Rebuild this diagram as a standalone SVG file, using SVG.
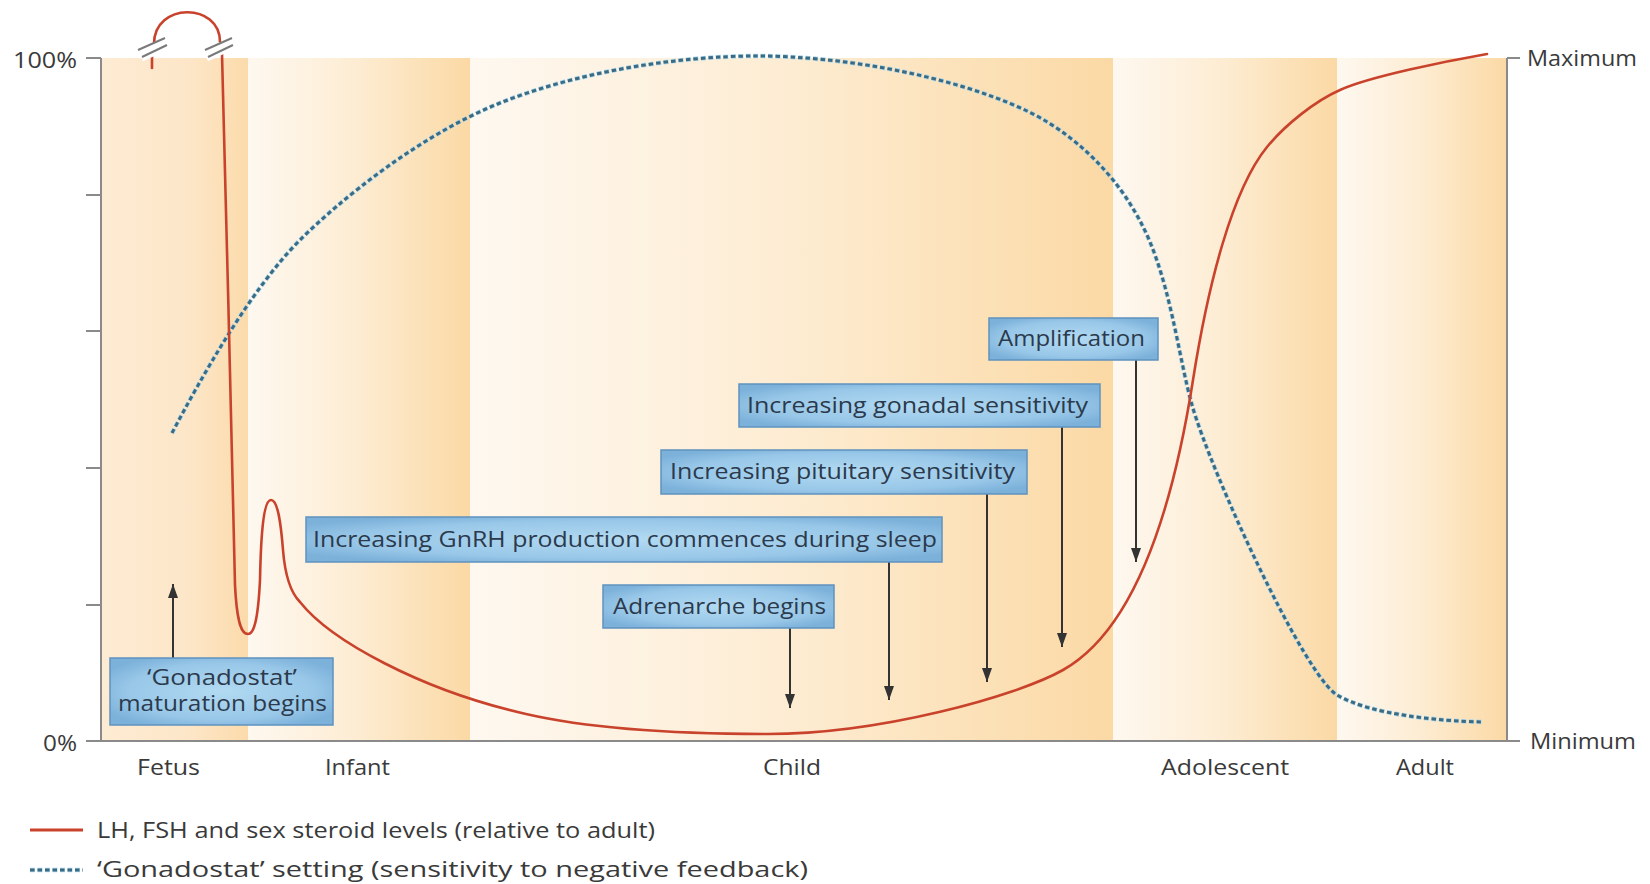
<svg xmlns="http://www.w3.org/2000/svg" width="1650" height="884" viewBox="0 0 1650 884">
<style>
  .ax { stroke: #8a8a8a; stroke-width: 2; fill: none; }
  .lbl { font-family: "Open Sans", "Liberation Sans", sans-serif; font-size: 21px; fill: #3a3a3a; }
  .btxt { font-family: "Open Sans", "Liberation Sans", sans-serif; font-size: 21px; fill: #2b3a4c; }
  .box { fill: url(#boxGrad); stroke: #5f93bf; stroke-width: 1.5; }
  .red { stroke: #c9432c; stroke-width: 2.6; fill: none; stroke-linecap: round; }
  .blueHalo { stroke: #a9d6ec; stroke-width: 4.5; fill: none; stroke-dasharray: 5 2.5; }
  .blue { stroke: #3b6b82; stroke-width: 3; fill: none; stroke-dasharray: 4.5 3; }
  .arr { stroke: #333; stroke-width: 2; fill: none; }
  .brk { stroke: #7a7a7a; stroke-width: 2; fill: none; }
</style>
<defs>
  <linearGradient id="gFetus" x1="0" y1="0" x2="1" y2="0">
    <stop offset="0" stop-color="#fdebd3"/>
    <stop offset="0.6" stop-color="#fde6c8"/>
    <stop offset="1" stop-color="#fbdbab"/>
  </linearGradient>
  <linearGradient id="gBand" x1="0" y1="0" x2="1" y2="0">
    <stop offset="0" stop-color="#fef8f0"/>
    <stop offset="0.5" stop-color="#fdecd2"/>
    <stop offset="1" stop-color="#fbd9a5"/>
  </linearGradient>
  <radialGradient id="boxGrad" cx="0.5" cy="0.5" r="0.6">
    <stop offset="0" stop-color="#b2daf2"/>
    <stop offset="0.7" stop-color="#98c7e8"/>
    <stop offset="1" stop-color="#7cb1da"/>
  </radialGradient>
  <marker id="ah" viewBox="0 0 14 10" refX="14" refY="5" markerWidth="14" markerHeight="10" markerUnits="userSpaceOnUse" orient="auto">
    <path d="M0,0 L14,5 L0,10 z" fill="#333"/>
  </marker>
</defs>

<rect x="0" y="0" width="1650" height="884" fill="#ffffff"/>

<g id="bands">
  <rect x="101" y="58" width="147" height="683" fill="url(#gFetus)"/>
  <rect x="248" y="58" width="222" height="683" fill="url(#gBand)"/>
  <rect x="470" y="58" width="643" height="683" fill="url(#gBand)"/>
  <rect x="1113" y="58" width="224" height="683" fill="url(#gBand)"/>
  <rect x="1337" y="58" width="170" height="683" fill="url(#gBand)"/>
</g>

<g id="axes">
  <path class="ax" d="M101,58 V741 H1507 V58"/>
  <path class="ax" d="M86,58 H101 M86,195 H101 M86,331 H101 M86,468 H101 M86,605 H101 M86,741 H101 M1507,58 H1520 M1507,741 H1520"/>
  <text class="lbl" x="13" y="68" textLength="64" lengthAdjust="spacingAndGlyphs">100%</text>
  <text class="lbl" x="43" y="751" textLength="34" lengthAdjust="spacingAndGlyphs">0%</text>
  <text class="lbl" x="1527" y="66" textLength="110" lengthAdjust="spacingAndGlyphs">Maximum</text>
  <text class="lbl" x="1530" y="749" textLength="106" lengthAdjust="spacingAndGlyphs">Minimum</text>
  <text class="lbl" x="137" y="775" textLength="63" lengthAdjust="spacingAndGlyphs">Fetus</text>
  <text class="lbl" x="325" y="775" textLength="65" lengthAdjust="spacingAndGlyphs">Infant</text>
  <text class="lbl" x="763" y="775" textLength="58" lengthAdjust="spacingAndGlyphs">Child</text>
  <text class="lbl" x="1161" y="775" textLength="128" lengthAdjust="spacingAndGlyphs">Adolescent</text>
  <text class="lbl" x="1396" y="775" textLength="58" lengthAdjust="spacingAndGlyphs">Adult</text>
</g>

<g id="curves">
  <path class="blueHalo" d="M172,433 C200,380 250,290 300,240 C340,200 420,135 500,103 C580,71 680,56 757,56 C840,56 950,75 1025,110 C1070,131 1122,175 1150,242 C1172,295 1180,363 1192,405 C1212,475 1305,676 1337,695 C1371,715 1440,721 1482,722"/>
  <path class="blue" d="M172,433 C200,380 250,290 300,240 C340,200 420,135 500,103 C580,71 680,56 757,56 C840,56 950,75 1025,110 C1070,131 1122,175 1150,242 C1172,295 1180,363 1192,405 C1212,475 1305,676 1337,695 C1371,715 1440,721 1482,722"/>
  <path class="red" d="M152,68 L152,56"/>
  <path class="red" d="M154,44 C154,2 220,2 220,42"/>
  <path class="red" d="M222,54 C225,200 233,450 235,585 C237,625 242,634 248,634 C254,634 258,620 260,580 C261,530 264,500 271,500 C278,500 281,525 283,550 C285,575 291,593 300,602 C330,640 420,690 526,714 C600,731 700,734 768,734 C880,734 1017,696 1063,670 C1143,625 1177,482 1193,380 C1208,285 1232,190 1267,147 C1285,125 1315,101 1340,90 C1370,76.5 1447,61 1487,54"/>
  <g id="breaks">
    <path d="M140,52 L166,40 M142,59 L168,47 M205,52 L231,40 M207,59 L233,47" stroke="#ffffff" stroke-width="5" fill="none"/>
    <path class="brk" d="M138,50 L165,38 M142,57 L167,45 M205,50 L232,38 M208,57 L233,45"/>
  </g>
</g>

<g id="connectors">
  <line class="arr" x1="173" y1="658" x2="173" y2="584" marker-end="url(#ah)"/>
  <line class="arr" x1="790" y1="628" x2="790" y2="708" marker-end="url(#ah)"/>
  <line class="arr" x1="889" y1="562" x2="889" y2="700" marker-end="url(#ah)"/>
  <line class="arr" x1="987" y1="494" x2="987" y2="682" marker-end="url(#ah)"/>
  <line class="arr" x1="1062" y1="427" x2="1062" y2="647" marker-end="url(#ah)"/>
  <line class="arr" x1="1136" y1="360" x2="1136" y2="562" marker-end="url(#ah)"/>
</g>

<g id="node-gonadostat">
  <rect class="box" x="110" y="658" width="223" height="67"/>
  <text class="btxt" x="147" y="685" textLength="150" lengthAdjust="spacingAndGlyphs">‘Gonadostat’</text>
  <text class="btxt" x="118" y="711" textLength="209" lengthAdjust="spacingAndGlyphs">maturation begins</text>
</g>
<g id="node-gnrh">
  <rect class="box" x="306" y="517" width="636" height="45"/>
  <text class="btxt" x="313" y="547" textLength="624" lengthAdjust="spacingAndGlyphs">Increasing GnRH production commences during sleep</text>
</g>
<g id="node-adrenarche">
  <rect class="box" x="603" y="585" width="231" height="43"/>
  <text class="btxt" x="613" y="614" textLength="213" lengthAdjust="spacingAndGlyphs">Adrenarche begins</text>
</g>
<g id="node-pituitary">
  <rect class="box" x="661" y="450" width="366" height="44"/>
  <text class="btxt" x="670" y="479" textLength="345" lengthAdjust="spacingAndGlyphs">Increasing pituitary sensitivity</text>
</g>
<g id="node-gonadal">
  <rect class="box" x="739" y="384" width="361" height="43"/>
  <text class="btxt" x="747" y="413" textLength="341" lengthAdjust="spacingAndGlyphs">Increasing gonadal sensitivity</text>
</g>
<g id="node-amplification">
  <rect class="box" x="989" y="318" width="169" height="42"/>
  <text class="btxt" x="998" y="346" textLength="147" lengthAdjust="spacingAndGlyphs">Amplification</text>
</g>

<g id="legend">
  <line x1="30" y1="830" x2="83" y2="830" stroke="#c9432c" stroke-width="3"/>
  <line x1="30" y1="870" x2="83" y2="870" class="blueHalo"/>
  <line x1="30" y1="870" x2="83" y2="870" class="blue"/>
  <text class="lbl" x="97" y="838" textLength="558" lengthAdjust="spacingAndGlyphs">LH, FSH and sex steroid levels (relative to adult)</text>
  <text class="lbl" x="97" y="877" textLength="711" lengthAdjust="spacingAndGlyphs">‘Gonadostat’ setting (sensitivity to negative feedback)</text>
</g>
</svg>
